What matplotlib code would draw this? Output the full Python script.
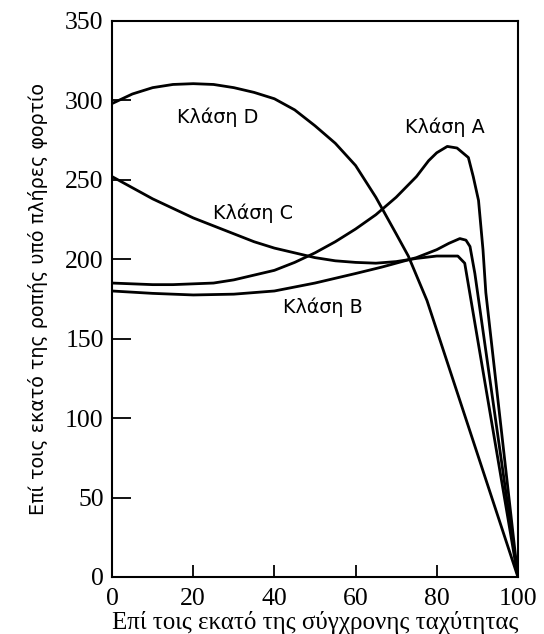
import numpy as np
import matplotlib.pyplot as plt

# curves (percent sync speed vs percent full-load torque)
class_a_x = [0, 5, 10, 15, 20, 25, 30, 35, 40, 45, 50, 55, 60, 65, 70, 75, 78, 80, 82.6, 85, 87.8, 89, 90.3, 91.4, 92.1, 100]
class_a_y = [185, 184.5, 184, 184, 184.5, 185, 187, 190, 193, 198, 204, 211, 219, 228, 239, 252, 262, 267, 271, 270, 264, 252, 237, 206, 179, 0]

class_b_x = [0, 10, 20, 30, 40, 50, 60, 66.4, 75, 80, 83, 85.7, 87.2, 88.2, 89.4, 100]
class_b_y = [180, 178.5, 177.5, 178, 180, 185, 191, 195, 201, 206, 210, 213, 212, 208, 191, 0]

class_c_x = [0, 5, 10, 15, 20, 25, 30, 35, 40, 45, 50, 55, 60, 65, 70, 75, 80, 85.2, 86.9, 100]
class_c_y = [252, 245, 238, 232, 226, 221, 216, 211, 207, 204, 201, 199, 198, 197.5, 198.5, 200.5, 202, 202, 197.5, 0]

class_d_x = [0, 5, 10, 15, 20, 25, 30, 35, 40, 45, 50, 55, 60, 65, 70, 73, 77.6, 100]
class_d_y = [298, 304, 308, 310, 310.5, 310, 308, 305, 301, 294, 284, 273, 259, 239, 216, 202, 174, 0]

labels = ["Κλάση A", "Κλάση B", "Κλάση C", "Κλάση D"]
label_x = [82, 52, 34.8, 26.1]
label_y = [283, 170, 229, 289.5]

x_ticks = [0, 20, 40, 60, 80, 100]
y_ticks = [0, 50, 100, 150, 200, 250, 300, 350]

fig = plt.figure(figsize=(5.44, 6.34), dpi=100)
ax = fig.add_axes([0.206, 0.090, 0.746, 0.877])

for xs, ys in [(class_a_x, class_a_y), (class_b_x, class_b_y),
               (class_c_x, class_c_y), (class_d_x, class_d_y)]:
    ax.plot(xs, ys, color="black", lw=2.0, solid_joinstyle="round")

for txt, lx, ly in zip(labels, label_x, label_y):
    ax.text(lx, ly, txt, ha="center", va="center", fontsize=13.8,
            family="DejaVu Sans")

ax.set_xlim(0, 100)
ax.set_ylim(0, 350)
ax.set_xticks(x_ticks)
ax.set_yticks(y_ticks)
ax.tick_params(axis="y", direction="in", length=14, width=1.3, labelsize=18.5, pad=6)
ax.tick_params(axis="x", direction="in", length=9, width=1.3, labelsize=18.5, pad=8)
for lbl in ax.get_xticklabels() + ax.get_yticklabels():
    lbl.set_family("Liberation Serif")
for sp in ax.spines.values():
    sp.set_linewidth(1.5)

ax.set_xlabel("Επί τοις εκατό της σύγχρονης ταχύτητας", fontsize=18,
              family="Liberation Serif", labelpad=1)
ax.set_ylabel("Επί τοις εκατό της ροπής υπό πλήρες φορτίο", fontsize=13.8,
              family="DejaVu Sans", labelpad=12)

fig.savefig("out.png", dpi=100)
plt.close("all")
